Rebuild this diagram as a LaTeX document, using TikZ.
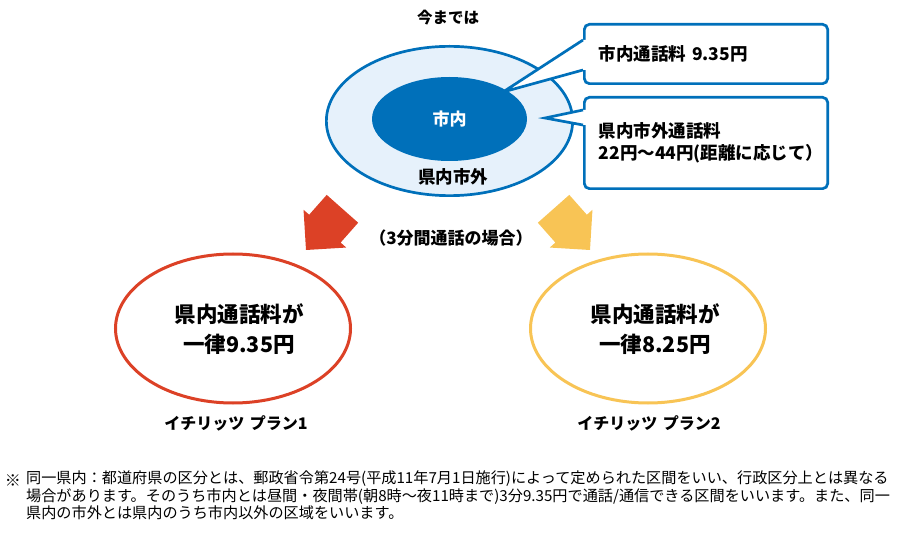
\documentclass[tikz,border=0pt]{standalone}
\usepackage{fontspec}
\setmainfont{Noto Sans CJK JP}
\usepackage{xcolor}
\usepackage{tikz}
\usetikzlibrary{calc,shapes.geometric}

\definecolor{telblue}{HTML}{0070BA}
\definecolor{telpale}{HTML}{E6F1FB}
\definecolor{planred}{HTML}{DC4126}
\definecolor{planyellow}{HTML}{F8C455}

\begin{document}
\begin{tikzpicture}[x=1pt,y=-1pt,
  callout/.style={draw=telblue, line width=2.7pt, fill=white, rounded corners=5pt,
    anchor=north west, align=left, inner xsep=14.5pt, text width=214.3pt,
    font=\fontsize{17.5}{22}\selectfont\bfseries},
  planring/.style={ellipse, line width=3pt, fill=white, minimum width=235pt, minimum height=149pt},
  plantext/.style={align=center, font=\fontsize{21.5}{30}\selectfont\bfseries},
  planname/.style={font=\fontsize{16}{18}\selectfont\bfseries}]

\useasboundingbox (0,0) rectangle (900,540);

% =====================
% Heading above the rings
% =====================
\node[font=\fontsize{15.5}{18}\selectfont\bfseries] (title) at (448,18) {今までは};

% =====================
% Outer ring: prefecture outside city
% =====================
\node[ellipse, draw=telblue, fill=telpale, line width=2.7pt,
  minimum width=246.3pt, minimum height=149.3pt] (outer) at (449.5,121) {};
\node[font=\fontsize{17.5}{20}\selectfont\bfseries] (outerlabel) at (453,177) {県内市外};

% =====================
% Callout boxes with their pointers
% =====================
\node[callout, minimum height=59.3pt] (upbox) at (583,23) {市内通話料 9.35円};
\node[callout, minimum height=91.3pt] (lowbox) at (583,96) {県内市外通話料\\22円〜44円(距離に応じて）};

\coordinate (upA) at ($(upbox.west)+(0,-14)$);
\coordinate (upB) at ($(upbox.west)+(0,16)$);
\coordinate (upTip) at (503,92);
\coordinate (lowA) at ($(lowbox.west)+(0,-33)$);
\coordinate (lowB) at ($(lowbox.west)+(0,-18)$);
\coordinate (lowTip) at (545,118);

% white wedge hides the ring and the box border
\fill[white] (upA) -- (upTip) -- (upB) -- ($(upB)+(3,0)$) -- ($(upA)+(3,0)$) -- cycle;
\fill[white] (lowA) -- (lowTip) -- (lowB) -- ($(lowB)+(3,0)$) -- ($(lowA)+(3,0)$) -- cycle;
\draw[telblue, line width=2.7pt] (upA) -- (upTip) -- (upB);
\draw[telblue, line width=2.7pt] (lowA) -- (lowTip) -- (lowB);

% =====================
% Inner ring: inside the city
% =====================
\node[ellipse, fill=telblue, minimum width=155pt, minimum height=84pt,
  text=white, font=\fontsize{17}{20}\selectfont\bfseries] (inner) at (449.5,119) {市内};

% =====================
% Block arrows towards the two plans
% =====================
\begin{scope}[shift={(306,250)}, rotate=-131.5]
  \fill[planred] (-55,-21) -- (-28.5,-21) -- (-28.5,-28.5) -- (0,0)
    -- (-28.5,28.5) -- (-28.5,21) -- (-55,21) -- cycle;
\end{scope}
\begin{scope}[shift={(590,250)}, rotate=-48.5]
  \fill[planyellow] (-55,-21) -- (-28.5,-21) -- (-28.5,-28.5) -- (0,0)
    -- (-28.5,28.5) -- (-28.5,21) -- (-55,21) -- cycle;
\end{scope}
\node[font=\fontsize{17}{20}\selectfont\bfseries] (case) at (451,238) {（3分間通話の場合）};

% =====================
% Plan 1 and Plan 2
% =====================
\node[planring, draw=planred] (plan1) at (233,328.5) {};
\node[plantext] (plan1text) at (239,329) {県内通話料が\\一律9.35円};
\node[planname] (plan1name) at (236,423) {イチリッツ\hspace{0.35em}プラン1};

\node[planring, draw=planyellow] (plan2) at (648,328.5) {};
\node[plantext] (plan2text) at (655,329) {県内通話料が\\一律8.25円};
\node[planname] (plan2name) at (649,423) {イチリッツ\hspace{0.35em}プラン2};

% =====================
% Footnote
% =====================
\node[font=\fontsize{16}{19}\selectfont] (notemark) at (13,481) {※};
\node[anchor=north west, align=left, inner sep=0pt, font=\fontsize{15.15}{17.5}\selectfont] (note) at (26,470.5)
  {同一県内：都道府県の区分とは、郵政省令第24号(平成11年7月1日施行)によって定められた区間をいい、行政区分上とは異なる\\
   場合があります。そのうち市内とは昼間・夜間帯(朝8時〜夜11時まで)3分9.35円で通話/通信できる区間をいいます。また、同一\\
   県内の市外とは県内のうち市内以外の区域をいいます。};
\end{tikzpicture}
\end{document}
